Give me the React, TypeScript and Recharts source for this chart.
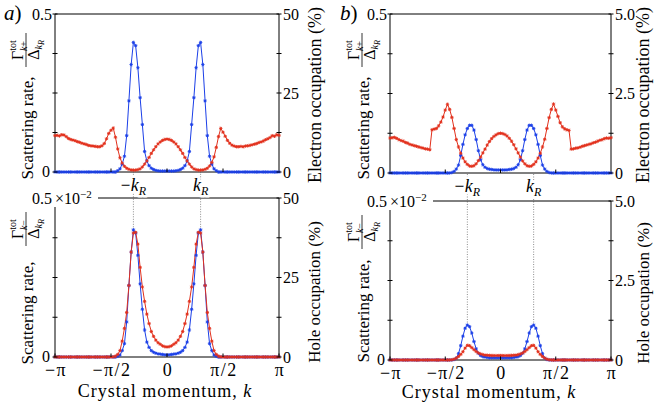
import React from 'react';
import { LineChart, Line, XAxis, YAxis, ReferenceLine } from 'recharts';

const FONT = '"Liberation Serif", "Times New Roman", serif';
const BLUE = '#1b3fe8';
const RED = '#e2301c';
const PI = Math.PI;
const KR = 0.3 * PI;

// crystal momentum grid, k = -pi ... pi (101 points)
const K = Array.from({ length: 101 }, (_, i) => -PI + (2 * PI * i) / 100);

// panel a) top: scattering rate (left axis) and electron occupation in % (right axis)
const A_TOP_RATE = [
  0, 0, 0, 0, 0, 0, 0, 0, 0, 0,
  0, 0, 0, 0, 0, 0, 0, 0, 0, 0,
  0, 0, 0, 0, 0, 0, 0, 0, 0.004, 0.01,
  0.025, 0.05, 0.115, 0.225, 0.34, 0.41, 0.40, 0.33, 0.235, 0.15,
  0.065, 0.035, 0.02, 0.012, 0.008, 0.005, 0.004, 0.003, 0.003, 0.003,
  0.003, 0.003, 0.003, 0.003, 0.004, 0.005, 0.008, 0.012, 0.02, 0.035,
  0.065, 0.15, 0.235, 0.33, 0.40, 0.41, 0.34, 0.225, 0.115, 0.05,
  0.025, 0.01, 0.004, 0, 0, 0, 0, 0, 0, 0,
  0, 0, 0, 0, 0, 0, 0, 0, 0, 0,
  0, 0, 0, 0, 0, 0, 0, 0, 0, 0,
  0,
];
const A_TOP_OCC = [
  11.5, 11.6, 11.4, 11.8, 11.7, 11.2, 10.6, 10.3, 10.1, 9.9,
  9.6, 9.4, 9.1, 8.9, 8.7, 8.4, 8.3, 8.2, 8.1, 8.0,
  8.0, 8.3, 9.0, 10.5, 12.2, 13.2, 13.9, 11.0, 7.3, 4.5,
  2.8, 1.8, 1.2, 0.85, 0.65, 0.6, 0.6, 0.75, 1.0, 1.6,
  2.5, 3.5, 4.6, 5.9, 7.0, 8.0, 8.9, 9.5, 10.0, 10.3,
  10.4, 10.3, 10.0, 9.5, 8.9, 8.0, 7.0, 5.9, 4.6, 3.5,
  2.5, 1.6, 1.0, 0.75, 0.6, 0.6, 0.65, 0.85, 1.2, 1.9,
  3.0, 4.8, 7.8, 11.2, 13.8, 12.6, 11.3, 10.0, 9.1, 8.5,
  8.2, 8.0, 8.0, 8.1, 8.0, 8.2, 8.3, 8.4, 8.6, 8.8,
  9.0, 9.3, 9.5, 9.8, 10.2, 10.5, 10.9, 11.5, 11.3, 11.8,
  11.6,
];

// panel a) bottom: scattering rate (left axis) and hole occupation in % (right axis)
const A_BOT_RATE = [
  0, 0, 0, 0, 0, 0, 0, 0, 0, 0,
  0, 0, 0, 0, 0, 0, 0, 0, 0, 0,
  0, 0, 0, 0, 0, 0, 0, 0, 0.00002, 0.00006,
  0.0002, 0.00042, 0.0011, 0.00225, 0.0033, 0.004, 0.0039, 0.0032, 0.0023, 0.0015,
  0.00085, 0.00047, 0.0003, 0.0002, 0.00015, 0.00012, 0.0001, 0.00009, 0.00008, 0.00007,
  0.00007, 0.00007, 0.00008, 0.00009, 0.0001, 0.00012, 0.00015, 0.0002, 0.0003, 0.00047,
  0.00085, 0.0015, 0.0023, 0.0032, 0.0039, 0.004, 0.0033, 0.00225, 0.0011, 0.00042,
  0.0002, 0.00006, 0.00002, 0, 0, 0, 0, 0, 0, 0,
  0, 0, 0, 0, 0, 0, 0, 0, 0, 0,
  0, 0, 0, 0, 0, 0, 0, 0, 0, 0,
  0,
];
const A_BOT_OCC = [
  0, 0, 0, 0, 0, 0, 0, 0, 0, 0,
  0, 0, 0, 0, 0, 0, 0, 0, 0, 0,
  0, 0, 0, 0, 0, 0, 0.05, 0.25, 0.8, 2.0,
  5.0, 9.0, 14.0, 22.5, 33.0, 39.0, 39.2, 35.5, 28.2, 22.0,
  17.5, 13.5, 10.5, 8.0, 6.5, 5.3, 4.5, 4.0, 3.5, 3.25,
  3.15, 3.25, 3.5, 4.0, 4.5, 5.3, 6.5, 8.0, 10.5, 13.5,
  17.5, 22.0, 28.2, 35.5, 39.2, 39.0, 33.0, 22.5, 14.0, 9.0,
  5.0, 2.0, 0.8, 0.25, 0.05, 0, 0, 0, 0, 0,
  0, 0, 0, 0, 0, 0, 0, 0, 0, 0,
  0, 0, 0, 0, 0, 0, 0, 0, 0, 0,
  0,
];

// panel b) top
const B_TOP_RATE = [
  0, 0, 0, 0, 0, 0, 0, 0, 0, 0,
  0, 0, 0, 0, 0, 0, 0, 0, 0, 0,
  0, 0, 0, 0, 0, 0, 0, 0, 0.0015, 0.005,
  0.0125, 0.025, 0.055, 0.09, 0.12, 0.14, 0.15, 0.15, 0.135, 0.105,
  0.07, 0.042, 0.026, 0.018, 0.014, 0.012, 0.011, 0.01, 0.0095, 0.0095,
  0.0095, 0.0095, 0.0095, 0.01, 0.011, 0.012, 0.014, 0.018, 0.026, 0.042,
  0.07, 0.105, 0.135, 0.15, 0.15, 0.14, 0.12, 0.09, 0.055, 0.025,
  0.0125, 0.005, 0.0015, 0, 0, 0, 0, 0, 0, 0,
  0, 0, 0, 0, 0, 0, 0, 0, 0, 0,
  0, 0, 0, 0, 0, 0, 0, 0, 0, 0,
  0,
];
const B_TOP_OCC = [
  1.10, 1.11, 1.12, 1.09, 1.05, 1.02, 1.00, 0.96, 0.94, 0.90,
  0.88, 0.86, 0.84, 0.82, 0.80, 0.78, 0.76, 0.75, 0.73, 1.36,
  1.38, 1.40, 1.48, 1.60, 1.76, 1.98, 2.16, 2.00, 1.75, 1.40,
  1.05, 0.82, 0.62, 0.47, 0.35, 0.27, 0.22, 0.21, 0.23, 0.29,
  0.39, 0.50, 0.63, 0.75, 0.88, 0.99, 1.08, 1.15, 1.20, 1.24,
  1.25, 1.24, 1.21, 1.16, 1.09, 1.00, 0.89, 0.76, 0.63, 0.50,
  0.38, 0.29, 0.23, 0.21, 0.22, 0.27, 0.35, 0.47, 0.62, 0.82,
  1.06, 1.40, 1.74, 2.00, 2.17, 1.98, 1.78, 1.58, 1.45, 1.39,
  1.36, 1.34, 0.75, 0.76, 0.78, 0.79, 0.81, 0.84, 0.86, 0.88,
  0.90, 0.92, 0.95, 0.97, 1.00, 1.03, 1.05, 1.08, 1.10, 1.09,
  1.11,
];

// panel b) bottom
const B_BOT_RATE = [
  0, 0, 0, 0, 0, 0, 0, 0, 0, 0,
  0, 0, 0, 0, 0, 0, 0, 0, 0, 0,
  0, 0, 0, 0, 0, 0, 0, 0, 0, 0.000015,
  0.00006, 0.0002, 0.00045, 0.00075, 0.001, 0.0011, 0.00105, 0.00085, 0.00058, 0.00035,
  0.00021, 0.00014, 0.000105, 0.00009, 0.00008, 0.00007, 0.00007, 0.00007, 0.00007, 0.00007,
  0.00007, 0.00007, 0.00007, 0.00007, 0.00007, 0.00007, 0.00008, 0.00009, 0.000105, 0.00014,
  0.00021, 0.00035, 0.00058, 0.00085, 0.00105, 0.0011, 0.001, 0.00075, 0.00045, 0.0002,
  0.00006, 0.000015, 0, 0, 0, 0, 0, 0, 0, 0,
  0, 0, 0, 0, 0, 0, 0, 0, 0, 0,
  0, 0, 0, 0, 0, 0, 0, 0, 0, 0,
  0,
];
const B_BOT_OCC = [
  0, 0, 0, 0, 0, 0, 0, 0, 0, 0,
  0, 0, 0, 0, 0, 0, 0, 0, 0, 0,
  0, 0, 0, 0, 0, 0, 0, 0, 0.01, 0.025,
  0.06, 0.11, 0.175, 0.26, 0.375, 0.46, 0.45, 0.39, 0.325, 0.265,
  0.22, 0.19, 0.17, 0.155, 0.15, 0.145, 0.14, 0.14, 0.14, 0.14,
  0.14, 0.14, 0.14, 0.14, 0.14, 0.145, 0.15, 0.155, 0.17, 0.19,
  0.22, 0.265, 0.325, 0.39, 0.45, 0.46, 0.375, 0.26, 0.175, 0.11,
  0.06, 0.025, 0.01, 0, 0, 0, 0, 0, 0, 0,
  0, 0, 0, 0, 0, 0, 0, 0, 0, 0,
  0, 0, 0, 0, 0, 0, 0, 0, 0, 0,
  0,
];

// ticks and tick labels
const X_TICKS_BOTTOM = [-PI, -PI / 2, 0, PI / 2, PI];
const X_LABELS_BOTTOM = ['−π', '−π/2', '0', 'π/2', 'π'];
const X_TICKS_TOP = [-PI / 2, -KR, 0, KR, PI / 2];
const LEFT_TICKS_TOP = [0, 0.125, 0.25, 0.375, 0.5];
const LEFT_TICKS_BOTTOM = [0, 0.00125, 0.0025, 0.00375, 0.005];
const RIGHT_TICKS_A = [0, 12.5, 25, 37.5, 50];
const RIGHT_LABELS_A: Record<string, string> = { '0': '0', '25': '25', '50': '50' };
const RIGHT_TICKS_B = [0, 1.25, 2.5, 3.75, 5];
const RIGHT_LABELS_B: Record<string, string> = { '0': '0', '2.5': '2.5', '5': '5.0' };

const rowsOf = (rate: number[], occ: number[]) =>
  K.map((k, i) => ({ k, rate: rate[i], occ: occ[i] }));

const makeDot = (color: string) => (p: any) => {
  const { cx, cy, index } = p;
  if (cx == null || cy == null) return <g key={`d${index}`} />;
  const s = 1.7;
  const d = 1.2;
  return (
    <path
      key={`d${index}`}
      d={`M${cx - s} ${cy}H${cx + s}M${cx} ${cy - s}V${cy + s}M${cx - d} ${cy - d}L${cx + d} ${cy + d}M${cx - d} ${cy + d}L${cx + d} ${cy - d}`}
      stroke={color}
      strokeWidth={0.9}
      fill="none"
    />
  );
};
const BLUE_DOT = makeDot(BLUE);
const RED_DOT = makeDot(RED);

const near = (a: number, b: number) => Math.abs(a - b) < 1e-9;

function LeftTick(p: any) {
  const { x, y, payload, kind, max } = p;
  const v = payload.value;
  let label: React.ReactNode = null;
  if (near(v, 0)) {
    label = (
      <text x={x - 5} y={y + 5} textAnchor="end" fontSize={16} fontFamily={FONT} fill="#000">0</text>
    );
  } else if (near(v, max)) {
    label =
      kind === 'top' ? (
        <text x={x - 3} y={y + 5.5} textAnchor="end" fontSize={16} fontFamily={FONT} fill="#000">0.5</text>
      ) : (
        <g>
          <rect x={x - 25} y={y - 10} width={68} height={19} fill="#fff" />
          <text x={x - 23} y={y + 5.5} fontSize={16} fontFamily={FONT} fill="#000">
            0.5<tspan dx={3}>×10</tspan>
            <tspan dy={-6} fontSize={11}>−2</tspan>
          </text>
        </g>
      );
  }
  return (
    <g>
      <line x1={x - 2.5} x2={x + 2.5} y1={y} y2={y} stroke="#000" strokeWidth={1} />
      {label}
    </g>
  );
}

function RightTick(p: any) {
  const { x, y, payload, labels } = p;
  const v = payload.value;
  const lab = labels[String(v)];
  return (
    <g>
      <line x1={x - 2.5} x2={x + 2.5} y1={y} y2={y} stroke="#000" strokeWidth={1} />
      {lab ? (
        <text x={x + 4} y={y + 5.5} fontSize={16} fontFamily={FONT} fill="#000">{lab}</text>
      ) : null}
    </g>
  );
}

function BottomXTick(p: any) {
  const { x, y, payload } = p;
  const idx = X_TICKS_BOTTOM.findIndex((t) => near(t, payload.value));
  const lab = idx >= 0 ? X_LABELS_BOTTOM[idx] : '';
  return (
    <g>
      <line x1={x} x2={x} y1={y - 3.5} y2={y} stroke="#000" strokeWidth={1} />
      <text x={x + 1} y={y + 19} textAnchor="middle" fontSize={18} letterSpacing={1.5} fontFamily={FONT} fill="#000">{lab}</text>
    </g>
  );
}

function TopXTick(p: any) {
  const { x, y, payload } = p;
  const v = payload.value;
  if (near(Math.abs(v), KR)) {
    return (
      <text
        x={x}
        y={y + 19}
        textAnchor="middle"
        fontSize={18}
        fontFamily={FONT}
        fill="#000"
        stroke="#fff"
        strokeWidth={5}
        strokeLinejoin="round"
        paintOrder="stroke"
      >
        {v < 0 ? '−' : ''}
        <tspan fontStyle="italic">k</tspan>
        <tspan fontStyle="italic" fontSize={12} dy={4}>R</tspan>
      </text>
    );
  }
  return <line x1={x} x2={x} y1={y - 3.5} y2={y} stroke="#000" strokeWidth={1} />;
}

type PanelProps = {
  left: number;
  top: number;
  width: number;
  height: number;
  margin: { top: number; right: number; bottom: number; left: number };
  rate: number[];
  occ: number[];
  lMax: number;
  lTicks: number[];
  rMax: number;
  rTicks: number[];
  rLabels: Record<string, string>;
  kind: 'top' | 'bottom';
  guideTop?: number;
};

// axes take 1px each, so the chart margin is the plot inset minus 1
function Panel(props: PanelProps) {
  const { left, top, width, height, margin, rate, occ, lMax, lTicks, rMax, rTicks, rLabels, kind, guideTop } = props;
  const data = rowsOf(rate, occ);
  const peak = Math.max(...rate);
  const m = {
    top: margin.top - 1,
    right: margin.right - 1,
    bottom: margin.bottom - 1,
    left: margin.left - 1,
  };
  return (
    <div style={{ position: 'absolute', left, top, width, height }}>
      <LineChart width={width} height={height} data={data} margin={m}>
        <XAxis
          xAxisId="t"
          orientation="top"
          dataKey="k"
          type="number"
          domain={[-PI, PI]}
          height={1}
          tick={false}
          tickLine={false}
          axisLine={{ stroke: '#000', strokeWidth: 1 }}
        />
        <XAxis
          xAxisId="b"
          dataKey="k"
          type="number"
          domain={[-PI, PI]}
          ticks={kind === 'top' ? X_TICKS_TOP : X_TICKS_BOTTOM}
          interval={0}
          height={1}
          tickSize={0}
          tickMargin={0}
          tickLine={false}
          tick={kind === 'top' ? (p: any) => <TopXTick {...p} /> : (p: any) => <BottomXTick {...p} />}
          axisLine={{ stroke: '#000', strokeWidth: 1 }}
        />
        <YAxis
          yAxisId="r"
          orientation="right"
          domain={[0, rMax]}
          ticks={rTicks}
          interval={0}
          width={1}
          tickSize={0}
          tickMargin={0}
          tickLine={false}
          tick={(p: any) => <RightTick {...p} labels={rLabels} />}
          axisLine={{ stroke: '#000', strokeWidth: 1 }}
        />
        <YAxis
          yAxisId="l"
          domain={[0, lMax]}
          ticks={lTicks}
          interval={0}
          width={1}
          tickSize={0}
          tickMargin={0}
          tickLine={false}
          tick={(p: any) => <LeftTick {...p} kind={kind} max={lMax} />}
          axisLine={{ stroke: '#000', strokeWidth: 1 }}
        />
        {kind === 'bottom' && guideTop != null
          ? [-KR, KR].map((kx) => (
              <ReferenceLine
                key={`g${kx}`}
                xAxisId="b"
                yAxisId="l"
                segment={[
                  { x: kx, y: peak },
                  { x: kx, y: guideTop },
                ]}
                stroke="#8c8c8c"
                strokeWidth={1}
                strokeDasharray="1 1.5"
                ifOverflow="visible"
              />
            ))
          : null}
        <Line
          xAxisId="b"
          yAxisId="l"
          dataKey="rate"
          type="linear"
          stroke={BLUE}
          strokeWidth={1}
          dot={BLUE_DOT}
          activeDot={false}
          isAnimationActive={false}
        />
        <Line
          xAxisId="b"
          yAxisId="r"
          dataKey="occ"
          type="linear"
          stroke={RED}
          strokeWidth={1}
          dot={RED_DOT}
          activeDot={false}
          isAnimationActive={false}
        />
      </LineChart>
    </div>
  );
}

function Frac({ cx, cy, sign }: { cx: number; cy: number; sign: string }) {
  return (
    <g transform={`translate(${cx},${cy}) rotate(-90)`} fontFamily={FONT} fill="#000">
      <text x={0} y={-3.5} textAnchor="middle" fontSize={16}>
        Γ<tspan fontSize={10} dy={-7}>tot</tspan>
        <tspan fontSize={10} dx={-11} dy={11} fontStyle="italic">k</tspan>
        <tspan fontSize={10} dy={0}>{sign}</tspan>
      </text>
      <line x1={-17} x2={17} y1={0} y2={0} stroke="#000" strokeWidth={0.8} />
      <text x={0} y={13} textAnchor="middle" fontSize={16}>
        Δ<tspan fontSize={10} dy={3} fontStyle="italic">k</tspan>
        <tspan fontSize={8} dy={2} fontStyle="italic">R</tspan>
      </text>
    </g>
  );
}

function RotText({ x, y, size, children }: { x: number; y: number; size: number; children: React.ReactNode }) {
  return (
    <text
      x={x}
      y={y}
      transform={`rotate(-90 ${x} ${y})`}
      textAnchor="middle"
      fontSize={size}
      fontFamily={FONT}
      fill="#000"
    >
      {children}
    </text>
  );
}

function Overlay() {
  return (
    <svg width={654} height={412} style={{ position: 'absolute', left: 0, top: 0, pointerEvents: 'none' }}>
      {/* panel letters */}
      <text x={4} y={20} fontSize={21} fontFamily={FONT} fill="#000">
        <tspan fontStyle="italic">a</tspan>)
      </text>
      <text x={340} y={20} fontSize={21} fontFamily={FONT} fill="#000">
        <tspan fontStyle="italic">b</tspan>)
      </text>

      {/* left titles */}
      <RotText x={33} y={128} size={17}>Scattering rate,</RotText>
      <Frac cx={26} cy={50} sign="+" />
      <RotText x={369} y={128} size={17}>Scattering rate,</RotText>
      <Frac cx={362} cy={50} sign="+" />
      <RotText x={33} y={313} size={17}>Scattering rate,</RotText>
      <Frac cx={26} cy={229} sign="−" />
      <RotText x={369} y={311} size={17}>Scattering rate,</RotText>
      <Frac cx={362} cy={232} sign="−" />

      {/* right titles */}
      <RotText x={321} y={95} size={18}>Electron occupation (%)</RotText>
      <RotText x={649} y={95} size={18}>Electron occupation (%)</RotText>
      <RotText x={320} y={292} size={17}>Hole occupation (%)</RotText>
      <RotText x={649} y={293} size={17}>Hole occupation (%)</RotText>

      {/* x titles */}
      <text x={165} y={397} textAnchor="middle" fontSize={18} letterSpacing={1} fontFamily={FONT} fill="#000">
        Crystal momentum, <tspan fontStyle="italic">k</tspan>
      </text>
      <text x={489} y={398} textAnchor="middle" fontSize={18} letterSpacing={1} fontFamily={FONT} fill="#000">
        Crystal momentum, <tspan fontStyle="italic">k</tspan>
      </text>
    </svg>
  );
}

export default function App() {
  return (
    <div
      style={{
        position: 'absolute',
        left: 0,
        top: 0,
        width: 654,
        height: 412,
        background: '#fff',
        overflow: 'hidden',
      }}
    >
      <Panel
        left={0}
        top={172}
        width={330}
        height={240}
        margin={{ top: 26, right: 51, bottom: 55, left: 55 }}
        rate={A_BOT_RATE}
        occ={A_BOT_OCC}
        lMax={0.005}
        lTicks={LEFT_TICKS_BOTTOM}
        rMax={50}
        rTicks={RIGHT_TICKS_A}
        rLabels={RIGHT_LABELS_A}
        kind="bottom"
        guideTop={0.00582}
      />
      <Panel
        left={330}
        top={172}
        width={324}
        height={240}
        margin={{ top: 29, right: 43, bottom: 52, left: 60 }}
        rate={B_BOT_RATE}
        occ={B_BOT_OCC}
        lMax={0.005}
        lTicks={LEFT_TICKS_BOTTOM}
        rMax={5}
        rTicks={RIGHT_TICKS_B}
        rLabels={RIGHT_LABELS_B}
        kind="bottom"
        guideTop={0.00588}
      />
      <Panel
        left={0}
        top={0}
        width={330}
        height={200}
        margin={{ top: 14, right: 51, bottom: 28, left: 55 }}
        rate={A_TOP_RATE}
        occ={A_TOP_OCC}
        lMax={0.5}
        lTicks={LEFT_TICKS_TOP}
        rMax={50}
        rTicks={RIGHT_TICKS_A}
        rLabels={RIGHT_LABELS_A}
        kind="top"
      />
      <Panel
        left={330}
        top={0}
        width={324}
        height={200}
        margin={{ top: 14, right: 43, bottom: 27, left: 60 }}
        rate={B_TOP_RATE}
        occ={B_TOP_OCC}
        lMax={0.5}
        lTicks={LEFT_TICKS_TOP}
        rMax={5}
        rTicks={RIGHT_TICKS_B}
        rLabels={RIGHT_LABELS_B}
        kind="top"
      />
      <Overlay />
    </div>
  );
}
